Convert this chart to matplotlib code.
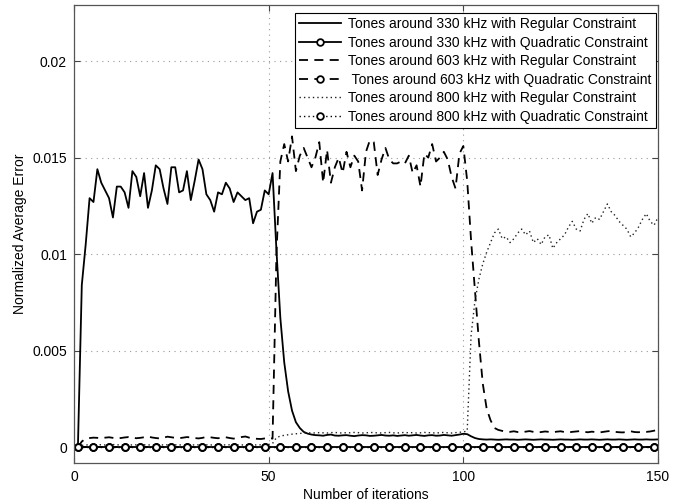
import numpy as np
import matplotlib
matplotlib.use('Agg')
import matplotlib.pyplot as plt

plt.rcParams['font.family'] = ['Liberation Sans', 'DejaVu Sans']

# iterations 1..150
iters = np.arange(1, 151)

# tones around 330 kHz, regular constraint (solid)
reg330 = [0.0, 0.0084, 0.0105, 0.0129, 0.0127, 0.0144, 0.0137, 0.0133, 0.0129, 0.0119,
          0.0135, 0.0135, 0.0132, 0.0124, 0.0143, 0.0140, 0.0130, 0.0142, 0.0124, 0.0133,
          0.0146, 0.0144, 0.0134, 0.0126, 0.0145, 0.0145, 0.0132, 0.0133, 0.0143, 0.0128,
          0.0138, 0.0149, 0.0144, 0.0131, 0.0128, 0.0122, 0.0132, 0.0131, 0.0137, 0.0134,
          0.0127, 0.0132, 0.0130, 0.0128, 0.0129, 0.0116, 0.0122, 0.0123, 0.0133, 0.0131,
          0.0142, 0.0102, 0.0067, 0.0044, 0.0029, 0.0019, 0.0013, 0.0010, 0.00080, 0.00071,
          0.00066, 0.00063, 0.00062, 0.00060, 0.00064, 0.00066, 0.00061, 0.00060, 0.00062, 0.00063,
          0.00060, 0.00058, 0.00061, 0.00063, 0.00062, 0.00059, 0.00060, 0.00062, 0.00064, 0.00061,
          0.00060, 0.00062, 0.00059, 0.00061, 0.00063, 0.00060, 0.00062, 0.00064, 0.00061, 0.00059,
          0.00062, 0.00063, 0.00060, 0.00061, 0.00064, 0.00062, 0.00060, 0.00063, 0.00066, 0.00070,
          0.00068, 0.00057, 0.00048, 0.00043, 0.00041, 0.00040, 0.00041, 0.00040, 0.00039, 0.00040,
          0.00041, 0.00040, 0.00040, 0.00039, 0.00040, 0.00041, 0.00040, 0.00039, 0.00040, 0.00041,
          0.00040, 0.00040, 0.00039, 0.00040, 0.00041, 0.00040, 0.00040, 0.00039, 0.00040, 0.00041,
          0.00040, 0.00040, 0.00041, 0.00040, 0.00039, 0.00040, 0.00041, 0.00040, 0.00040, 0.00041,
          0.00040, 0.00039, 0.00040, 0.00041, 0.00040, 0.00040, 0.00041, 0.00040, 0.00040, 0.00041]

# tones around 603 kHz, regular constraint (dashed)
reg603 = [0.0, 0.00030, 0.00045, 0.00048, 0.00050, 0.00049, 0.00047, 0.00050, 0.00052, 0.00049,
          0.00046, 0.00048, 0.00051, 0.00053, 0.00050, 0.00047, 0.00049, 0.00052, 0.00056, 0.00051,
          0.00048, 0.00046, 0.00050, 0.00055, 0.00052, 0.00049, 0.00047, 0.00050, 0.00053, 0.00051,
          0.00048, 0.00046, 0.00049, 0.00054, 0.00052, 0.00049, 0.00047, 0.00050, 0.00052, 0.00048,
          0.00045, 0.00049, 0.00053, 0.00056, 0.00050, 0.00046, 0.00044, 0.00043, 0.00046, 0.00048,
          0.00045, 0.0100, 0.0148, 0.0157, 0.0148, 0.0161, 0.0143, 0.0151, 0.0155, 0.0150,
          0.0145, 0.0150, 0.0158, 0.0137, 0.0154, 0.0137, 0.0145, 0.0150, 0.0142, 0.0153,
          0.0145, 0.0151, 0.0148, 0.0133, 0.0153, 0.0159, 0.0158, 0.0141, 0.0149, 0.0155,
          0.0149, 0.0147, 0.0147, 0.0148, 0.0147, 0.0151, 0.0142, 0.0146, 0.0135, 0.0152,
          0.0150, 0.0157, 0.0148, 0.0150, 0.0153, 0.0149, 0.0140, 0.0134, 0.0152, 0.0156,
          0.0138, 0.0107, 0.0081, 0.0055, 0.0033, 0.0020, 0.0014, 0.0010, 0.00090, 0.00085,
          0.00082, 0.00080, 0.00083, 0.00079, 0.00078, 0.00081, 0.00084, 0.00080, 0.00077, 0.00079,
          0.00082, 0.00080, 0.00078, 0.00081, 0.00083, 0.00079, 0.00077, 0.00080, 0.00082, 0.00084,
          0.00080, 0.00078, 0.00081, 0.00079, 0.00077, 0.00080, 0.00083, 0.00085, 0.00080, 0.00078,
          0.00077, 0.00080, 0.00083, 0.00079, 0.00078, 0.00081, 0.00080, 0.00082, 0.00086, 0.00090]

# tones around 800 kHz, regular constraint (dotted)
reg800 = [0.0, 0.00010, 0.00012, 0.00013, 0.00012, 0.00014, 0.00013, 0.00012, 0.00013, 0.00014,
          0.00013, 0.00012, 0.00014, 0.00013, 0.00012, 0.00013, 0.00014, 0.00013, 0.00012, 0.00013,
          0.00014, 0.00013, 0.00012, 0.00013, 0.00014, 0.00013, 0.00012, 0.00013, 0.00014, 0.00013,
          0.00012, 0.00013, 0.00014, 0.00013, 0.00012, 0.00013, 0.00014, 0.00013, 0.00012, 0.00013,
          0.00014, 0.00013, 0.00012, 0.00013, 0.00014, 0.00013, 0.00012, 0.00013, 0.00014, 0.00015,
          0.00020, 0.00050, 0.00058, 0.00062, 0.00065, 0.00068, 0.00070, 0.00072, 0.00073, 0.00074,
          0.00075, 0.00074, 0.00076, 0.00075, 0.00074, 0.00076, 0.00077, 0.00075, 0.00074, 0.00076,
          0.00075, 0.00077, 0.00076, 0.00074, 0.00075, 0.00077, 0.00076, 0.00075, 0.00074, 0.00076,
          0.00077, 0.00075, 0.00074, 0.00076, 0.00077, 0.00075, 0.00076, 0.00074, 0.00075, 0.00077,
          0.00076, 0.00075, 0.00074, 0.00076, 0.00077, 0.00075, 0.00074, 0.00076, 0.00078, 0.00079,
          0.00085, 0.0058, 0.0076, 0.0087, 0.0095, 0.0101, 0.0106, 0.0111, 0.0113, 0.0108,
          0.0109, 0.0106, 0.0108, 0.0111, 0.0113, 0.0110, 0.0112, 0.0106, 0.0108, 0.0105,
          0.0109, 0.0110, 0.0103, 0.0106, 0.0108, 0.0110, 0.0114, 0.0117, 0.0113, 0.0112,
          0.0118, 0.0121, 0.0116, 0.0119, 0.0118, 0.0122, 0.0126, 0.0122, 0.0120, 0.0117,
          0.0115, 0.0113, 0.0109, 0.0111, 0.0114, 0.0118, 0.0121, 0.0117, 0.0115, 0.0119]

# quadratic constraint: error stays at zero for all three tone groups
quad330 = [0.0] * 150
quad603 = [0.0] * 150
quad800 = [0.0] * 150

labels = ['Tones around 330 kHz with Regular Constraint',
          'Tones around 330 kHz with Quadratic Constraint',
          'Tones around 603 kHz with Regular Constraint',
          ' Tones around 603 kHz with Quadratic Constraint',
          'Tones around 800 kHz with Regular Constraint',
          'Tones around 800 kHz with Quadratic Constraint']

fig = plt.figure(figsize=(6.79, 5.03), dpi=100)
ax = fig.add_axes([0.109, 0.080, 0.860, 0.910])

lw = 1.3
dash = (0, (5, 3.5))
dot = (0, (1, 2.2))
mk = dict(marker='o', markersize=4.8, markerfacecolor='white',
          markeredgecolor='black', markeredgewidth=1.3, markevery=(0, 4))

ax.plot(iters, reg330, color='black', lw=lw, label=labels[0])
ax.plot(iters, quad330, color='black', lw=lw, label=labels[1], **mk)
ax.plot(iters, reg603, color='black', lw=lw, ls=dash, label=labels[2])
ax.plot(iters, quad603, color='black', lw=lw, ls=dash, label=labels[3], **mk)
ax.plot(iters, reg800, color='#222222', lw=1.0, ls=dot, label=labels[4])
ax.plot(iters, quad800, color='black', lw=1.0, ls=dot, label=labels[5], **mk)

ax.set_xlim(0, 150)
ax.set_ylim(-0.0008, 0.0229)
ax.set_xticks([0, 50, 100, 150])
ax.set_yticks([0, 0.005, 0.01, 0.015, 0.02])
ax.set_yticklabels(['0', '0.005', '0.01', '0.015', '0.02'])
ax.tick_params(direction='in', length=4, top=True, right=True, labelsize=10,
               color='#444444', pad=5)
ax.grid(True, ls=(0, (1, 4)), color='#999999', lw=0.8)
for s in ax.spines.values():
    s.set_color('#555555')
    s.set_linewidth(0.9)

ax.set_xlabel('Number of iterations', fontsize=10, labelpad=3)
ax.set_ylabel('Normalized Average Error', fontsize=10, labelpad=4)

leg = ax.legend(loc='upper right', bbox_to_anchor=(0.996, 0.983), borderaxespad=0,
                fontsize=10, handlelength=3.0, handletextpad=0.5, labelspacing=0.33,
                borderpad=0.3, fancybox=False, framealpha=1, edgecolor='black',
                numpoints=1)
leg.get_frame().set_linewidth(0.8)

fig.savefig('out.png', dpi=100)
